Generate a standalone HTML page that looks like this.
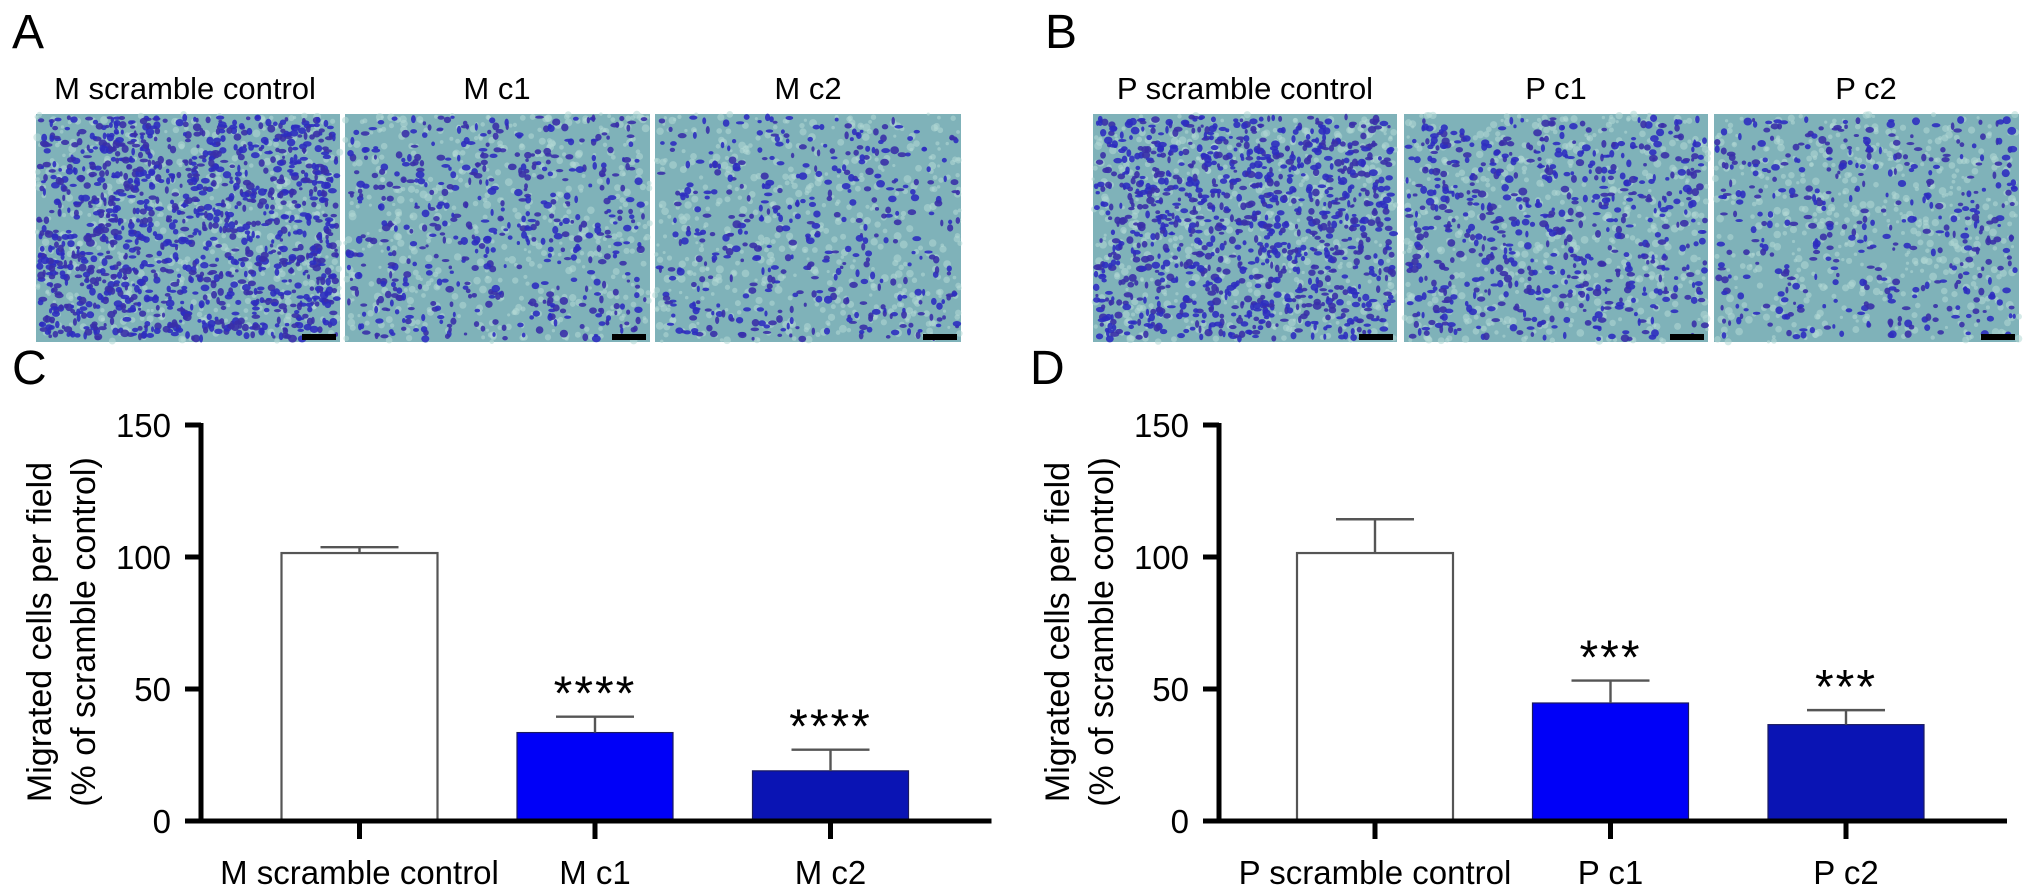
<!DOCTYPE html>
<html><head><meta charset="utf-8"><style>
html,body{margin:0;padding:0;background:#fff;width:2032px;height:896px;overflow:hidden}
svg{display:block;font-family:"Liberation Sans",Arial,sans-serif}
</style></head><body>
<svg id="fig" width="2032" height="896" viewBox="0 0 2032 896" xmlns="http://www.w3.org/2000/svg">
<g id="micro"></g>
<text x="12" y="48" font-size="48">A</text>
<text x="1045" y="48" font-size="48">B</text>
<text x="12" y="384" font-size="48">C</text>
<text x="1030" y="384" font-size="48">D</text>
<text x="185" y="99" font-size="31" text-anchor="middle">M scramble control</text>
<text x="497" y="99" font-size="31" text-anchor="middle">M c1</text>
<text x="808" y="99" font-size="31" text-anchor="middle">M c2</text>
<text x="1245" y="99" font-size="31" text-anchor="middle">P scramble control</text>
<text x="1556" y="99" font-size="31" text-anchor="middle">P c1</text>
<text x="1866" y="99" font-size="31" text-anchor="middle">P c2</text>
<g id="chartC"></g>
<g id="chartD"></g>
</svg>
<script>
// Chart data
const categoriesC = ["M scramble control", "M c1", "M c2"];
const valuesC = [101.5, 33.5, 19];
const errorsC = [2.2, 6, 8];
const starsC = ["", "****", "****"];
const categoriesD = ["P scramble control", "P c1", "P c2"];
const valuesD = [101.5, 44.7, 36.5];
const errorsD = [12.8, 8.5, 5.5];
const starsD = ["", "***", "***"];
const yTicks = [0, 50, 100, 150];
const barColors = ["#ffffff", "#0000f8", "#0a14b4"];

const NS = "http://www.w3.org/2000/svg";
function mk(tag, attrs, parent){const e=document.createElementNS(NS,tag);for(const k in attrs)e.setAttribute(k,attrs[k]);parent.appendChild(e);return e;}

function drawChart(g, axisX, firstCenter, cats, vals, errs, stars, prefix){
  const y0 = 821, pxPer = 2.64, spacing = 235.5, barW = 156;
  const yScale = v => y0 - v*pxPer;
  const xScale = i => firstCenter + i*spacing;
  const xEnd = xScale(cats.length-1) + 161;
  const t1 = mk("text",{transform:`translate(${axisX-150},632) rotate(-90)`,"font-size":34,"text-anchor":"middle"},g);
  t1.textContent="Migrated cells per field";
  
  
  const t2 = mk("text",{transform:`translate(${axisX-106},632) rotate(-90)`,"font-size":34,"text-anchor":"middle"},g);
  t2.textContent="(% of scramble control)";
  
  
  vals.forEach((v,i)=>{
    const cx = xScale(i);
    const r = mk("rect",{x:cx-barW/2,y:yScale(v),width:barW,height:y0-yScale(v),fill:barColors[i],stroke:i===0?"#555":"#1a1a60","stroke-width":i===0?2.2:1.2},g);
    
    
    const top = yScale(v+errs[i]);
    const eb = mk("path",{d:`M${cx} ${yScale(v)} V${top} M${cx-39} ${top} H${cx+39}`,stroke:"#555","stroke-width":2.4,fill:"none"},g);
    
    
    if(stars[i]){
      const s = mk("text",{x:cx,y:top-33+26,"font-size":48,"text-anchor":"middle","letter-spacing":"2"},g);
      s.textContent = stars[i];
      
      
    }
    const tk = mk("line",{x1:cx,x2:cx,y1:y0,y2:y0+18,stroke:"#000","stroke-width":5},g);
    
    
    const lb = mk("text",{x:cx,y:884,"font-size":33,"text-anchor":"middle"},g);
    lb.textContent = cats[i];
    
    
  });
  const ya = mk("line",{x1:axisX,x2:axisX,y1:yScale(150)-2,y2:y0+2,stroke:"#000","stroke-width":5},g);
  
  
  const xa = mk("line",{x1:axisX-16,x2:xEnd,y1:y0,y2:y0,stroke:"#000","stroke-width":5},g);
  
  
  yTicks.forEach(t=>{
    const l = mk("line",{x1:axisX-16,x2:axisX,y1:yScale(t),y2:yScale(t),stroke:"#000","stroke-width":5},g);
    
    
    const tx = mk("text",{x:axisX-30,y:yScale(t)+12,"font-size":33,"text-anchor":"end"},g);
    tx.textContent = t;
    
    
  });
}
drawChart(document.getElementById("chartC"), 201, 359.5, categoriesC, valuesC, errorsC, starsC, "c");
drawChart(document.getElementById("chartD"), 1219, 1375, categoriesD, valuesD, errorsD, starsD, "d");

// Micrograph imitation (decorative)
const micro = document.getElementById("micro");
const imgs = [[36,304,1300],[345,305,520],[655,306,420],[1093,304,1100],[1404,304,650],[1714,305,420]];
let seed = 12345;
function rnd(){seed=(seed*1103515245+12345)%2147483648;return seed/2147483648;}
imgs.forEach((im,k)=>{
  const [x,w,n]=im;
  const g = mk("g",{},micro);
  
  
  mk("rect",{x:x,y:114,width:w,height:228,fill:"#7fb2b9"},g);
  for(let i=0;i<500;i++){
    mk("circle",{cx:x+rnd()*w,cy:114+rnd()*228,r:1.5+rnd()*2.5,fill:"#b2d8d6",opacity:0.55},g);
  }
  for(let i=0;i<n;i++){
    const cx=x+3+rnd()*(w-6), cy=117+rnd()*222;
    mk("ellipse",{cx:cx,cy:cy,rx:1.5+rnd()*3,ry:1.5+rnd()*2.5,fill:rnd()<0.5?"#2d2dc0":"#3a30a8",opacity:0.9},g);
  }
  mk("rect",{x:x+w-38,y:334,width:34,height:6,fill:"#000"},g);
});
</script>
</body></html>
